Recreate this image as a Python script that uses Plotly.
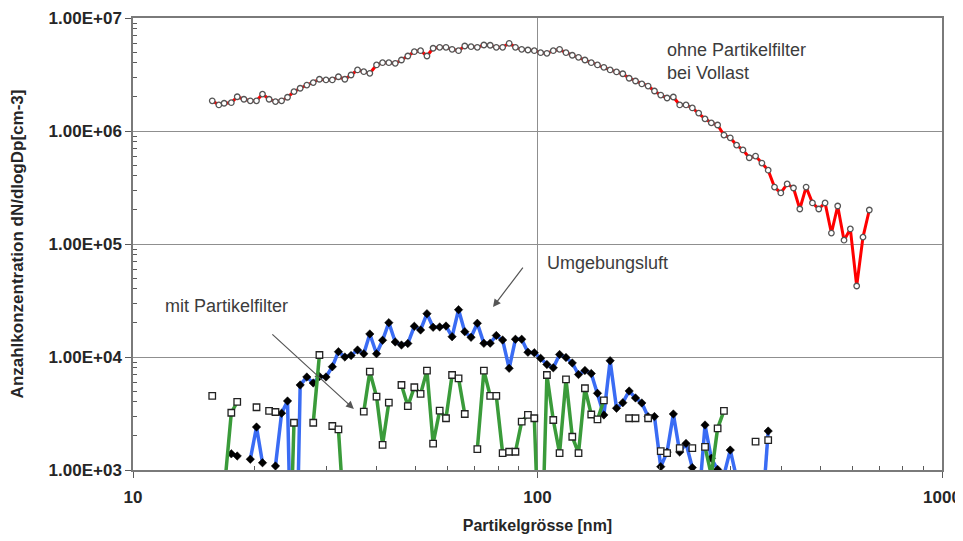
import plotly.graph_objects as go

# Particle diameter channels [nm]
diameter_nm = [15.7, 16.3, 16.8, 17.5, 18.1, 18.8, 19.5, 20.2, 20.9, 21.7, 22.5, 23.3, 24.1, 25.0, 25.9,
               26.9, 27.9, 28.9, 30.0, 31.1, 32.2, 33.4, 34.6, 35.9, 37.2, 38.5, 40.0, 41.4, 42.9, 44.5,
               46.1, 47.8, 49.6, 51.4, 53.3, 55.2, 57.3, 59.4, 61.5, 63.8, 66.1, 68.5, 71.0, 73.7, 76.4,
               79.1, 82.0, 85.1, 88.2, 91.4, 94.7, 98.2, 101.8, 105.5, 109.4, 113.4, 117.6, 121.9, 126.3,
               131.0, 135.8, 140.7, 145.9, 151.2, 156.8, 162.5, 168.5, 174.7, 181.1, 187.7, 194.6, 201.7,
               209.1, 216.7, 224.7, 232.9, 241.4, 250.3, 259.5, 269.0, 278.8, 289.0, 299.6, 310.6, 322.0,
               333.8, 346.0, 358.7, 371.8, 385.4, 399.5, 414.2, 429.4, 445.1, 461.4, 478.3, 495.8, 514.0,
               532.8, 552.3, 572.5, 593.5, 615.3, 637.8, 661.2]

# ohne Partikelfilter bei Vollast
ohne_filter = [1.85e6, 1.70e6, 1.76e6, 1.78e6, 2.01e6, 1.91e6, 1.85e6, 1.85e6, 2.12e6, 1.91e6,
               1.82e6, 1.85e6, 1.99e6, 2.23e6, 2.39e6, 2.55e6, 2.68e6, 2.87e6, 2.83e6, 2.83e6,
               3.02e6, 2.87e6, 3.13e6, 3.47e6, 3.35e6, 3.24e6, 3.84e6, 4.02e6, 4.02e6, 3.97e6,
               4.25e6, 4.61e6, 5.03e6, 5.14e6, 4.61e6, 5.40e6, 5.50e6, 5.50e6, 5.28e6, 5.14e6,
               5.65e6, 5.57e6, 5.50e6, 5.77e6, 5.74e6, 5.50e6, 5.50e6, 5.97e6, 5.50e6, 5.28e6,
               5.21e6, 5.14e6, 4.93e6, 4.87e6, 5.14e6, 5.28e6, 4.93e6, 4.68e6, 4.49e6, 4.25e6,
               4.02e6, 3.84e6, 3.66e6, 3.47e6, 3.33e6, 3.21e6, 2.93e6, 2.77e6, 2.61e6, 2.50e6,
               2.26e6, 2.08e6, 1.96e6, 2.00e6, 1.70e6, 1.70e6, 1.60e6, 1.44e6, 1.28e6, 1.18e6,
               1.13e6, 9.2e5, 8.7e5, 7.5e5, 6.8e5, 5.8e5, 6.0e5, 5.2e5, 4.5e5, 3.19e5,
               2.83e5, 3.40e5, 3.13e5, 2.04e5, 3.19e5, 2.31e5, 2.04e5, 2.31e5, 1.25e5, 2.17e5,
               1.08e5, 1.36e5, 4.25e4, 1.15e5, 2.00e5]

# Umgebungsluft (None = no value)
umgebungsluft = [None, None, None, 1390, 1330, None, 1245, 2400, 1160, None,
                 1085, 3180, 4080, 10, 5650, 6650, 5890, 6720, 6650, 8200,
                 11140, 10000, 10310, 11530, 10690, 15990, 10690, 14060, 20130, 13580,
                 12770, 13160, 18690, 17340, 24160, 18320, 18450, 18790, 15130, 26220,
                 16750, 14930, 19860, 13210, 13260, 15490, 14130, 7940, 14350, 14350,
                 11020, 10910, 9730, 8590, 8020, 10520, 9900, 8850, 7000, 7600,
                 7140, 4770, 3070, 9270, 3520, 3940, 5000, 4340, 3920, 2960,
                 2970, 1070, 1440, 3130, 1440, 1720, 1050, 500, 2500, 1270,
                 1010, 900, 1500, 850, None, None, None, 370, 2210, None,
                 None, None, None, None, None, None, None, None, None, None,
                 None, None, None, None, None]

# mit Partikelfilter (None = no value)
mit_filter = [4520, None, 650, 3210, 4000, None, None, 3590, None, 3330,
              3260, None, 30, 2620, None, None, 2620, 10420, None, 2450,
              2290, 300, None, None, 3280, 7410, 4460, 1670, 3950, None,
              5650, 3680, 5400, 4710, 7570, 1710, 3350, 2870, 6930, 6480,
              3130, None, 1530, 7570, 4520, 4520, 1410, 1450, 1450, 2680,
              3070, 2870, 80, 6930, 2770, 1410, 6350, 1970, 1410, 5290,
              3100, 2800, 4140, None, None, None, 2870, 2870, None, 2870,
              None, 1470, 1410, None, 1560, None, 1560, None, 1600, 900,
              2340, 3330, None, None, None, None, 1780, None, 1840, None,
              None, None, None, None, None, None, None, None, None, None,
              None, None, None, None, None]

y_tickvals = [1e3, 1e4, 1e5, 1e6, 1e7]
y_ticktext = ["1.00E+03", "1.00E+04", "1.00E+05", "1.00E+06", "1.00E+07"]
x_tickvals = [10, 100, 1000]
x_ticktext = ["10", "100", "1000"]
x_minor = [20, 30, 40, 50, 60, 70, 80, 90, 200, 300, 400, 500, 600, 700, 800, 900]
y_minor = [m * 10 ** e for e in (3, 4, 5, 6) for m in range(2, 10)]

FONT = "Arial, Liberation Sans, sans-serif"
TXT = "#3c3c3c"

fig = go.Figure()

fig.add_trace(go.Scatter(
    x=diameter_nm, y=ohne_filter, mode="lines+markers", name="ohne Partikelfilter",
    line=dict(color="#ff0000", width=3),
    marker=dict(symbol="circle", size=5.5, color="white", line=dict(color="#555555", width=1.3)),
))
fig.add_trace(go.Scatter(
    x=diameter_nm, y=umgebungsluft, mode="lines+markers", name="Umgebungsluft",
    line=dict(color="#3a6cf4", width=3.5),
    marker=dict(symbol="diamond", size=6.5, color="black", line=dict(color="black", width=0.5)),
))
fig.add_trace(go.Scatter(
    x=diameter_nm, y=mit_filter, mode="lines+markers", name="mit Partikelfilter",
    line=dict(color="#3a9b3a", width=3.5),
    marker=dict(symbol="square", size=6.5, color="white", line=dict(color="#222222", width=1.3)),
))

axis_common = dict(
    showline=True, mirror=True, linecolor="#7a7a7a", linewidth=1.5,
    showgrid=True, gridcolor="#8f8f8f", gridwidth=1,
    ticks="outside", ticklen=6, tickcolor="#5a5a5a",
    tickfont=dict(family=FONT, size=17, color="#262626", weight="bold"),
    zeroline=False, automargin=False,
)

fig.update_xaxes(
    type="log", range=[1, 3], tickvals=x_tickvals, ticktext=x_ticktext,
    ticklabelstandoff=5,
    minor=dict(tickvals=x_minor, ticks="inside", ticklen=4, tickcolor="#5a5a5a", showgrid=False),
    title=dict(text="<b>Partikelgrösse [nm]</b>", font=dict(family=FONT, size=16, color="#262626"), standoff=14),
    **axis_common,
)
fig.update_yaxes(
    type="log", range=[3, 7], tickvals=y_tickvals, ticktext=y_ticktext,
    minor=dict(tickvals=y_minor, ticks="inside", ticklen=4, tickcolor="#5a5a5a", showgrid=False),
    title=dict(text="<b>Anzahlkonzentration dN/dlogDp[cm-3]</b>", font=dict(family=FONT, size=17, color="#262626"), standoff=22),
    **axis_common,
)

fig.add_annotation(text="ohne Partikelfilter<br>bei Vollast", xref="paper", yref="paper",
                   x=0.6576, y=0.903, xanchor="left", yanchor="middle", align="left", showarrow=False,
                   font=dict(family=FONT, size=18, color=TXT))
fig.add_annotation(text="Umgebungsluft", xref="paper", yref="paper",
                   x=0.5093, y=0.458, xanchor="left", yanchor="middle", showarrow=False,
                   font=dict(family=FONT, size=18, color=TXT))
fig.add_annotation(text="mit Partikelfilter", xref="paper", yref="paper",
                   x=0.0371, y=0.363, xanchor="left", yanchor="middle", showarrow=False,
                   font=dict(family=FONT, size=18, color=TXT))
# arrows
fig.add_annotation(x=1.890, y=4.442, xref="x", yref="y", ax=31, ay=-41, text="",
                   showarrow=True, arrowhead=2, arrowsize=1.3, arrowwidth=1.2, arrowcolor="#555555")
fig.add_annotation(x=1.546, y=3.540, xref="x", yref="y", ax=-83, ay=-76, text="",
                   showarrow=True, arrowhead=2, arrowsize=1.3, arrowwidth=1.2, arrowcolor="#555555")

# page body adds an 8px offset; margins compensate so the plot area lands at 133..942 x 18..470
fig.update_layout(
    width=955, height=533,
    margin=dict(l=125, r=21, t=10, b=71),
    paper_bgcolor="white", plot_bgcolor="white",
    showlegend=False,
    font=dict(family=FONT, color="#262626"),
)

fig.write_html("out.html")
